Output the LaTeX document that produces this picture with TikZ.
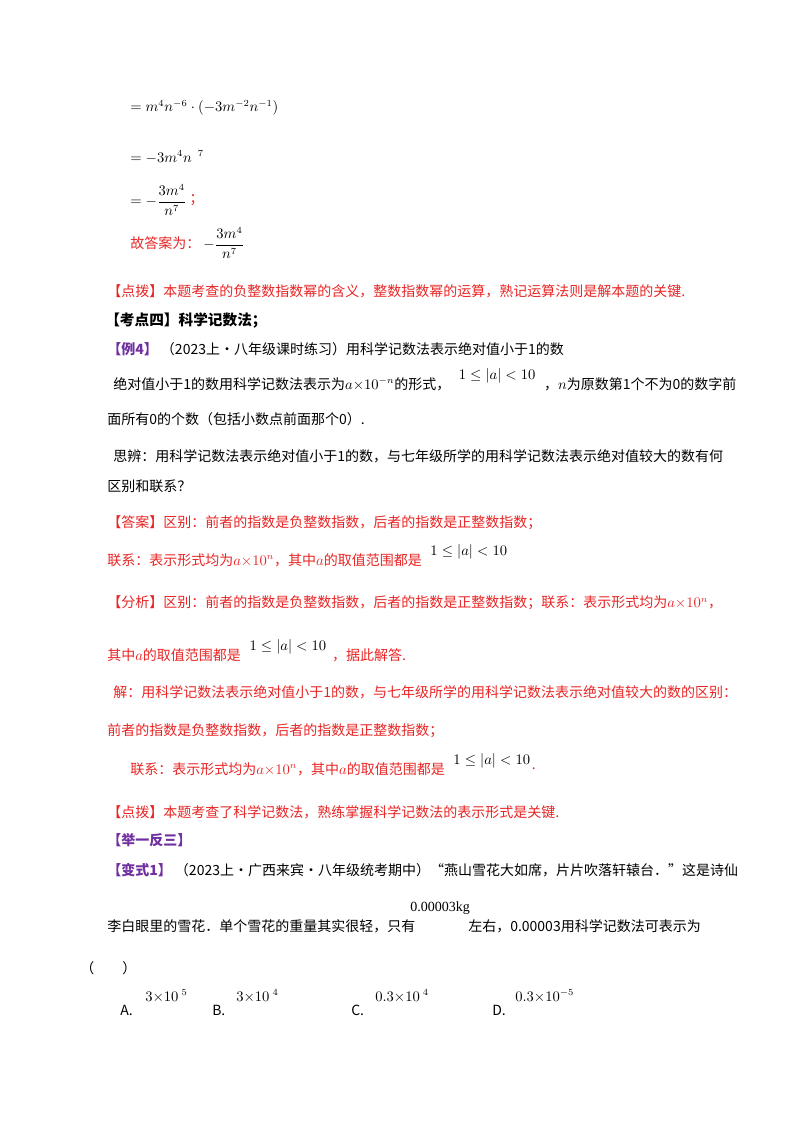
\documentclass[tikz,border=0pt]{standalone}
\usepackage{amsmath}
\usepackage{fontspec}
\setmainfont{Carlito}
\newfontfamily\cjk{Noto Sans CJK SC}
\newfontfamily\tms{Liberation Serif}
\usepackage{xcolor}
\definecolor{hongse}{RGB}{232,36,36}
\definecolor{zise}{RGB}{112,48,160}
\usetikzlibrary{positioning}

\begin{document}
\begin{tikzpicture}[x=0.75pt,y=-0.75pt,
        txt/.style={anchor=west, inner sep=0pt, font={\fontsize{10.5pt}{12pt}\cjk}},
        hong/.style={txt, hongse},
        zi/.style={txt, zise, font={\fontsize{10.5pt}{12pt}\cjk\bfseries}}]
          \useasboundingbox (0,0) rectangle (800,1132);
          %working lines
          \node[txt] (l1) at (130,108) {$=m^4n^{-6}\cdot\left(-3m^{-2}n^{-1}\right)$};
          \node[txt] (l2) at (130,157) {$=-3m^4n^{\;\;7}$};
          \node[txt] (l3) at (130,200) {$=-\dfrac{3m^4}{n^7}$};
          \node[hong, right=2pt of l3] (l3b) {；};
          \node[hong] (ans) at (130,243) {故答案为：};
          \node[txt, right=2pt of ans] (ansf) {$-\dfrac{3m^4}{n^7}$};
          \node[hong] (db1) at (107,291) {【点拨】本题考查的负整数指数幂的含义，整数指数幂的运算，熟记运算法则是解本题的关键.};

          %topic four
          \node[txt, font={\fontsize{11pt}{12pt}\cjk\bfseries}] (kd) at (105,321) {【考点四】科学记数法；};
          \node[zi] (li4) at (107,349) {【例4】};
          \node[txt, right=2pt of li4] (li4t) {（2023上·八年级课时练习）用科学记数法表示绝对值小于1的数};
          \node[txt] (p1) at (113,384) {绝对值小于1的数用科学记数法表示为$a{\times}10^{-n}$的形式，};
          \node[txt, right=6pt of p1, yshift=6pt] (p1b) {$1\le|a|<10$};
          \node[txt, right=6pt of p1b, yshift=-6pt] (p1c) {，$n$为原数第1个不为0的数字前};
          \node[txt] (p2) at (107,419) {面所有0的个数（包括小数点前面那个0）.};
          \node[txt] (sb1) at (113,456) {思辨：用科学记数法表示绝对值小于1的数，与七年级所学的用科学记数法表示绝对值较大的数有何};
          \node[txt] (sb2) at (107,486) {区别和联系？};

          %answer
          \node[hong] (da1) at (107,523) {【答案】区别：前者的指数是负整数指数，后者的指数是正整数指数；};
          \node[hong] (da2) at (107,560) {联系：表示形式均为$a{\times}10^n$，其中$a$的取值范围都是};
          \node[txt, right=6pt of da2, yshift=6pt] (da2b) {$1\le|a|<10$};
          \node[hong] (fx1) at (107,603) {【分析】区别：前者的指数是负整数指数，后者的指数是正整数指数；联系：表示形式均为$a{\times}10^n$，};
          \node[hong] (fx2) at (107,655) {其中$a$的取值范围都是};
          \node[txt, right=6pt of fx2, yshift=6pt] (fx2b) {$1\le|a|<10$};
          \node[hong, right=4pt of fx2b, yshift=-6pt] (fx2c) {，据此解答.};
          \node[hong] (j1) at (113,692) {解：用科学记数法表示绝对值小于1的数，与七年级所学的用科学记数法表示绝对值较大的数的区别：};
          \node[hong] (j2) at (107,731) {前者的指数是负整数指数，后者的指数是正整数指数；};
          \node[hong] (j3) at (130,769) {联系：表示形式均为$a{\times}10^n$，其中$a$的取值范围都是};
          \node[txt, right=6pt of j3, yshift=6pt] (j3b) {$1\le|a|<10$};
          \node[hong, right=1pt of j3b, yshift=-6pt] (j3c) {.};
          \node[hong] (db2) at (107,812) {【点拨】本题考查了科学记数法，熟练掌握科学记数法的表示形式是关键.};

          %variant
          \node[zi] (jy) at (107,840) {【举一反三】};
          \node[zi] (bs) at (107,870) {【变式1】};
          \node[txt, right=2pt of bs] (bst) {（2023上·广西来宾·八年级统考期中）“燕山雪花大如席，片片吹落轩辕台．”这是诗仙};
          \node[txt] (q1) at (107,926) {李白眼里的雪花．单个雪花的重量其实很轻，只有};
          \node[txt, font={\fontsize{10.5pt}{12pt}\tms}] (q1b) at (410,908) {0.00003kg};
          \node[txt] (q1c) at (468,926) {左右，0.00003用科学记数法可表示为};
          \node[txt] (kh) at (80,968) {（\qquad）};
          \node[txt] (oa) at (120,1010) {A.};
          \node[txt] (ea) at (145,996) {$3{\times}10^{\;5}$};
          \node[txt] (ob) at (212,1010) {B.};
          \node[txt] (eb) at (236,996) {$3{\times}10^{\;4}$};
          \node[txt] (oc) at (351,1010) {C.};
          \node[txt] (ec) at (375,996) {$0.3{\times}10^{\;4}$};
          \node[txt] (od) at (492,1010) {D.};
          \node[txt] (ed) at (515,996) {$0.3{\times}10^{-5}$};
\end{tikzpicture}
\end{document}
